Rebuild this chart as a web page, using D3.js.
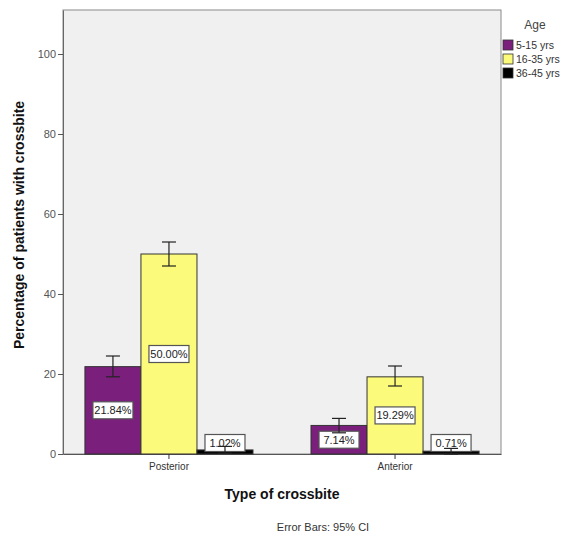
<!DOCTYPE html>
<html><head><meta charset="utf-8">
<script src="https://cdn.jsdelivr.net/npm/d3@7"></script>
<style>body{margin:0;background:#fff;} text{font-family:"Liberation Sans",Arial,sans-serif;}</style>
</head><body><svg id="c" width="568" height="535"></svg>
<script>
const categories = ["Posterior", "Anterior"];
const groups = ["5-15 yrs", "16-35 yrs", "36-45 yrs"];
const colors = ["#7b1f7d", "#fbfa7a", "#000000"];
const valuesPosterior = [21.84, 50.00, 1.02];
const valuesAnterior = [7.14, 19.29, 0.71];
const lowerPosterior = [19.3, 47.0, 0.2];
const upperPosterior = [24.5, 53.0, 1.9];
const lowerAnterior = [5.3, 17.0, 0.0];
const upperAnterior = [8.9, 22.0, 1.4];
const yTicks = [0, 20, 40, 60, 80, 100];

const values = [valuesPosterior, valuesAnterior];
const lowers = [lowerPosterior, lowerAnterior];
const uppers = [upperPosterior, upperAnterior];

const svg = d3.select("#c");
const L = 63, R = 501, T = 10, B = 454;
const y = d3.scaleLinear().domain([0, 111]).range([B, T]);
const x = d3.scaleBand().domain(categories).range([L, R]).paddingInner(0.2566).paddingOuter(0.097);
const xs = d3.scaleBand().domain(groups).range([0, x.bandwidth()]);

svg.append("rect").attr("x", L).attr("y", T).attr("width", R - L).attr("height", B - T)
  .attr("fill", "#f0f0f0").attr("stroke", "#8a8a8a").attr("stroke-width", 1);

// y axis
const ya = svg.append("g").attr("transform", `translate(${L},0)`)
  .call(d3.axisLeft(y).tickValues(yTicks).tickSize(5).tickSizeOuter(0).tickPadding(2).tickFormat(d3.format("d")));
ya.select(".domain").attr("stroke", "#666");
ya.selectAll(".tick line").attr("stroke", "#555");
ya.selectAll(".tick text").attr("fill", "#555").attr("font-size", 11);

// x axis
const xa = svg.append("g").attr("transform", `translate(0,${B})`)
  .call(d3.axisBottom(x).tickSize(5).tickSizeOuter(0).tickPadding(4));
xa.select(".domain").attr("stroke", "#555");
xa.selectAll(".tick line").attr("stroke", "#333");
xa.selectAll(".tick text").attr("fill", "#333").attr("font-size", 10);

const data = [];
categories.forEach((c, i) => groups.forEach((g, j) => data.push({c, g, j, v: values[i][j], lo: lowers[i][j], hi: uppers[i][j]})));

svg.append("g").selectAll("rect").data(data).join("rect")
  .attr("x", d => x(d.c) + xs(d.g)).attr("width", xs.bandwidth())
  .attr("y", d => y(d.v)).attr("height", d => B - y(d.v))
  .attr("fill", d => colors[d.j]).attr("stroke", "#333").attr("stroke-width", 1);

// labels
const lab = svg.append("g").selectAll("g").data(data).join("g")
  .attr("transform", d => `translate(${x(d.c) + xs(d.g) + xs.bandwidth() / 2},${Math.min(y(d.v / 2), B - 11)})`);
lab.append("rect").attr("x", -20).attr("y", -8.5).attr("width", 40).attr("height", 17)
  .attr("fill", "#fff").attr("stroke", "#555").attr("stroke-width", 1.2);
lab.append("text").text(d => d3.format(".2f")(d.v) + "%").attr("text-anchor", "middle")
  .attr("dy", "0.35em").attr("font-size", 11).attr("fill", "#222");

// error bars
const eb = svg.append("g").attr("stroke", "#222").attr("stroke-width", 1.2);
data.forEach(d => {
  const cx = x(d.c) + xs(d.g) + xs.bandwidth() / 2;
  eb.append("line").attr("x1", cx).attr("x2", cx).attr("y1", y(d.lo)).attr("y2", y(d.hi));
  eb.append("line").attr("x1", cx - 7).attr("x2", cx + 7).attr("y1", y(d.lo)).attr("y2", y(d.lo));
  eb.append("line").attr("x1", cx - 7).attr("x2", cx + 7).attr("y1", y(d.hi)).attr("y2", y(d.hi));
});

// titles
svg.append("text").attr("transform", "translate(24,225) rotate(-90)").attr("text-anchor", "middle")
  .attr("font-weight", "bold").attr("font-size", 14).attr("fill", "#111").text("Percentage of patients with crossbite");
svg.append("text").attr("x", 282).attr("y", 499).attr("text-anchor", "middle")
  .attr("font-weight", "bold").attr("font-size", 14).attr("fill", "#111").text("Type of crossbite");
svg.append("text").attr("x", 323).attr("y", 531).attr("text-anchor", "middle")
  .attr("font-size", 11).attr("fill", "#333").text("Error Bars: 95% CI");

// legend
svg.append("text").attr("x", 535).attr("y", 29).attr("text-anchor", "middle")
  .attr("font-size", 12).attr("fill", "#444").text("Age");
const lg = svg.append("g").selectAll("g").data(groups).join("g")
  .attr("transform", (d, i) => `translate(503,${40 + i * 14})`);
lg.append("rect").attr("width", 10).attr("height", 10).attr("fill", (d, i) => colors[i]).attr("stroke", "#333").attr("stroke-width", 0.8);
lg.append("text").attr("x", 13).attr("y", 9).attr("font-size", 10.5).attr("fill", "#333").text(d => d);
</script></body></html>
